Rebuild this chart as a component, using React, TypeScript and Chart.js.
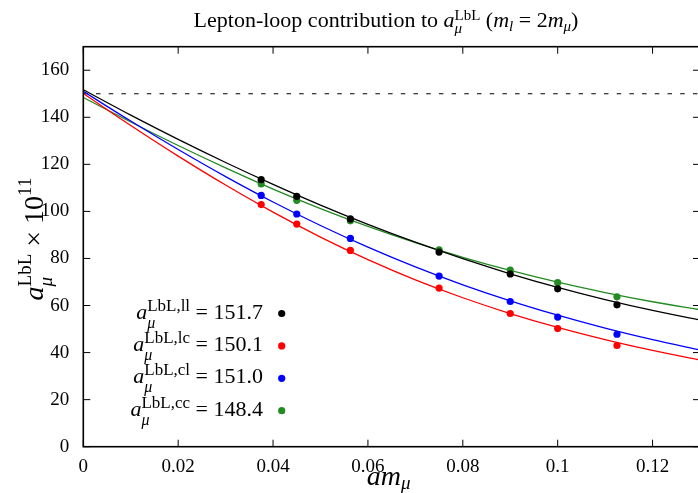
import React, { useEffect, useRef } from "react";
import { Chart, registerables } from "chart.js";

Chart.register(...registerables);

// ---------- data ----------
const curveX = [0, 0.01, 0.02, 0.03, 0.04, 0.05, 0.06, 0.07, 0.08, 0.09, 0.1, 0.11, 0.12, 0.13];
const curveLL = [151.7, 140.9, 130.6, 120.8, 111.5, 102.7, 94.5, 86.9, 79.9, 73.5, 67.7, 62.5, 57.9, 53.9];
const curveLC = [150.1, 136.5, 123.5, 111.2, 99.7, 89.1, 79.5, 70.9, 63.3, 56.6, 50.7, 45.5, 40.9, 36.8];
const curveCL = [151.0, 138.4, 126.3, 114.8, 104.0, 94.0, 84.8, 76.4, 68.8, 62.0, 55.9, 50.4, 45.5, 41.1];
const curveCC = [148.4, 138.0, 128.0, 118.5, 109.5, 101.2, 93.6, 86.7, 80.5, 74.9, 69.9, 65.5, 61.6, 58.2];

const latticeX = [0.0375, 0.045, 0.0563, 0.075, 0.09, 0.1, 0.1125];
const pointsLL = [113.5, 106.4, 96.8, 82.7, 73.4, 67.1, 60.3];
const pointsLC = [102.9, 94.6, 83.4, 67.4, 56.6, 50.2, 43.0];
const pointsCL = [106.8, 98.9, 88.5, 72.5, 61.7, 55.1, 47.8];
const pointsCC = [111.7, 104.7, 96.0, 83.7, 75.1, 69.7, 63.7];

const legendTags = ["ll", "lc", "cl", "cc"];
const legendValues = ["151.7", "150.1", "151.0", "148.4"];
const seriesColors = ["#000000", "#ff0000", "#0000ff", "#228b22"];

const xTicks = [0, 0.02, 0.04, 0.06, 0.08, 0.1, 0.12];
const yTicks = [0, 20, 40, 60, 80, 100, 120, 140, 160];
const referenceLine = 150;

// ---------- math-text helper ----------
const FAMILY = "'Liberation Serif', 'Times New Roman', serif";
type Piece = { t: string; size: number; italic?: boolean; dy?: number };
type Run = Piece | { stack: Piece[] };

function fontOf(p: Piece) {
  return `${p.italic ? "italic " : ""}${p.size}px ${FAMILY}`;
}
function runWidth(ctx: CanvasRenderingContext2D, r: Run): number {
  if ("stack" in r) {
    return Math.max(...r.stack.map((p) => runWidth(ctx, p)));
  }
  ctx.font = fontOf(r);
  return ctx.measureText(r.t).width;
}
function drawMath(
  ctx: CanvasRenderingContext2D,
  runs: Run[],
  x: number,
  y: number,
  align: "left" | "center" | "right"
) {
  ctx.save();
  ctx.textAlign = "left";
  ctx.textBaseline = "alphabetic";
  ctx.fillStyle = "#000";
  const total = runs.reduce((s, r) => s + runWidth(ctx, r), 0);
  let cx = align === "left" ? x : align === "center" ? x - total / 2 : x - total;
  for (const r of runs) {
    const w = runWidth(ctx, r);
    const pieces = "stack" in r ? r.stack : [r];
    for (const p of pieces) {
      ctx.font = fontOf(p);
      ctx.fillText(p.t, cx, y + (p.dy || 0));
    }
    cx += w;
  }
  ctx.restore();
}

const decorPlugin = {
  id: "decor",
  beforeDatasetsDraw(chart: any) {
    const { ctx, chartArea } = chart;
    const yS = chart.scales.y;
    const py = yS.getPixelForValue(referenceLine);
    ctx.save();
    ctx.strokeStyle = "#000";
    ctx.lineWidth = 1.1;
    ctx.setLineDash([4.5, 8.2]);
    ctx.beginPath();
    ctx.moveTo(chartArea.left, py);
    ctx.lineTo(chartArea.right, py);
    ctx.stroke();
    ctx.restore();
  },
  afterDraw(chart: any) {
    const { ctx, chartArea } = chart;
    const { left, right, top, bottom } = chartArea;
    const xS = chart.scales.x;
    const yS = chart.scales.y;
    ctx.save();
    ctx.strokeStyle = "#000";
    ctx.lineWidth = 1;
    const tl = 7;
    ctx.beginPath();
    for (const v of xTicks) {
      const px = xS.getPixelForValue(v);
      ctx.moveTo(px, bottom);
      ctx.lineTo(px, bottom - tl);
      ctx.moveTo(px, top);
      ctx.lineTo(px, top + tl);
    }
    for (const v of yTicks) {
      const py = yS.getPixelForValue(v);
      ctx.moveTo(left, py);
      ctx.lineTo(left + tl, py);
      ctx.moveTo(right, py);
      ctx.lineTo(right - tl, py);
    }
    ctx.stroke();
    ctx.lineWidth = 1.6;
    ctx.strokeRect(left, top, right - left, bottom - top);
    ctx.restore();

    // title
    drawMath(
      ctx,
      [
        { t: "Lepton-loop contribution to ", size: 22 },
        { t: "a", size: 22, italic: true },
        { stack: [
          { t: "μ", size: 15, italic: true, dy: 6 },
          { t: "LbL", size: 15, dy: -7 },
        ] },
        { t: " (", size: 22 },
        { t: "m", size: 22, italic: true },
        { t: "l", size: 15, italic: true, dy: 4 },
        { t: " = 2", size: 22 },
        { t: "m", size: 22, italic: true },
        { t: "μ", size: 15, italic: true, dy: 4 },
        { t: ")", size: 22 },
      ],
      386,
      26.7,
      "center"
    );

    // x-axis title
    drawMath(
      ctx,
      [
        { t: "am", size: 28, italic: true },
        { t: "μ", size: 19, italic: true, dy: 4 },
      ],
      (left + right) / 2 - 3,
      485,
      "center"
    );

    // y-axis title (rotated)
    ctx.save();
    ctx.translate(43, 239);
    ctx.rotate(-Math.PI / 2);
    drawMath(
      ctx,
      [
        { t: "a", size: 28, italic: true },
        { stack: [
          { t: "μ", size: 19, italic: true, dy: 9 },
          { t: "LbL", size: 19, dy: -12 },
        ] },
        { t: " × 10", size: 28 },
        { t: "11", size: 19, dy: -12 },
      ],
      0,
      0,
      "center"
    );
    ctx.restore();

    // key
    const rowY = [313.5, 345.9, 378.3, 410.7];
    legendTags.forEach((tag, i) => {
      drawMath(
        ctx,
        [
          { t: "a", size: 22, italic: true },
          { stack: [
            { t: "μ", size: 16, italic: true, dy: 9 },
            { t: "LbL," + tag, size: 17, dy: -8 },
          ] },
          { t: " = " + legendValues[i], size: 22 },
        ],
        263,
        rowY[i] + 5,
        "right"
      );
      ctx.save();
      ctx.fillStyle = seriesColors[i];
      ctx.beginPath();
      ctx.arc(281.7, rowY[i], 3.6, 0, Math.PI * 2);
      ctx.fill();
      ctx.restore();
    });
  },
};

function fmtTick(v: number) {
  return String(Number(Number(v).toFixed(2)));
}

export default function App() {
  const ref = useRef<HTMLCanvasElement | null>(null);
  useEffect(() => {
    document.body.style.margin = "0";
    const canvas = ref.current;
    if (!canvas) return;
    const curves = [curveLL, curveLC, curveCL, curveCC];
    const pts = [pointsLL, pointsLC, pointsCL, pointsCC];
    const datasets: any[] = [];
    curves.forEach((c, i) => {
      datasets.push({
        label: "fit " + legendTags[i],
        data: curveX.map((x, j) => ({ x, y: c[j] })),
        showLine: true,
        borderColor: seriesColors[i],
        backgroundColor: seriesColors[i],
        borderWidth: 1.3,
        pointRadius: 0,
        cubicInterpolationMode: "monotone",
        order: 1,
      });
    });
    pts.forEach((p, i) => {
      datasets.push({
        label: legendTags[i],
        data: latticeX.map((x, j) => ({ x, y: p[j] })),
        showLine: false,
        borderColor: seriesColors[i],
        backgroundColor: seriesColors[i],
        pointRadius: 3.6,
        pointBorderWidth: 0,
        order: 0,
      });
    });
    const tickFont = { family: FAMILY, size: 19 };
    const chart = new Chart(canvas, {
      type: "scatter",
      data: { datasets },
      options: {
        responsive: false,
        animation: false,
        devicePixelRatio: 1,
        layout: { padding: { top: 46.7, right: 3.2, left: 0, bottom: 0 } },
        plugins: {
          legend: { display: false },
          title: { display: false },
          tooltip: { enabled: false },
        },
        scales: {
          x: {
            type: "linear",
            min: 0,
            max: 0.13,
            grid: { display: false, drawTicks: false },
            border: { display: false },
            afterBuildTicks: (s: any) => {
              s.ticks = xTicks.map((v) => ({ value: v }));
            },
            afterFit: (s: any) => {
              s.height = 46.3;
            },
            ticks: {
              padding: 9,
              font: tickFont,
              color: "#000",
              maxRotation: 0,
              autoSkip: false,
              callback: (v: any) => fmtTick(v),
            },
          },
          y: {
            type: "linear",
            min: 0,
            max: 170,
            grid: { display: false, drawTicks: false },
            border: { display: false },
            afterBuildTicks: (s: any) => {
              s.ticks = yTicks.map((v) => ({ value: v }));
            },
            afterFit: (s: any) => {
              s.width = 83.3;
            },
            ticks: {
              padding: 14,
              font: tickFont,
              color: "#000",
              autoSkip: false,
              callback: (v: any) => String(v),
            },
          },
        },
      } as any,
      plugins: [decorPlugin],
    });
    return () => chart.destroy();
  }, []);
  return (
    <div style={{ position: "absolute", left: 0, top: 0, width: 698, height: 493, overflow: "hidden", background: "#fff" }}>
      <canvas ref={ref} width={704} height={493} style={{ width: 704, height: 493, display: "block" }} />
    </div>
  );
}
